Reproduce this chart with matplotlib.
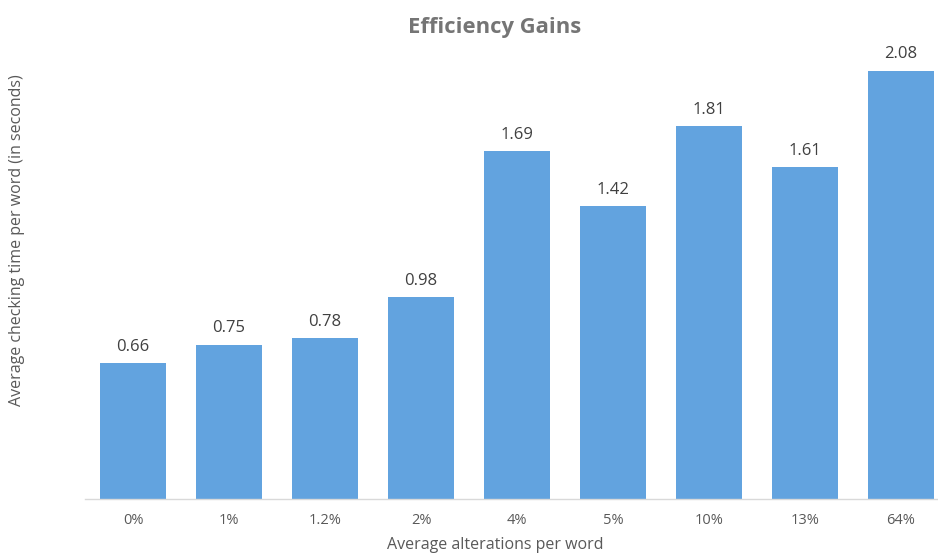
import numpy as np
import matplotlib.pyplot as plt

plt.rcParams['font.family'] = ['Open Sans', 'DejaVu Sans']

# Chart data
categories = ['0%', '1%', '1.2%', '2%', '4%', '5%', '10%', '13%', '64%']
check_time = [0.66, 0.75, 0.78, 0.98, 1.69, 1.42, 1.81, 1.61, 2.08]

fig = plt.figure(figsize=(9.38, 5.54), dpi=100)
ax = fig.add_axes([85 / 938, 55 / 554, 853 / 938, 439 / 554])

x = np.arange(len(categories))
ax.bar(x, check_time, width=0.68, color='#62A3DF', zorder=2)

for xi, v in zip(x, check_time):
    ax.text(xi, v + 0.04, f'{v:.2f}', ha='center', va='bottom',
            fontsize=12, color='#404040')

ax.set_xlim(-0.5, -0.5 + 853 / 96)
ax.set_ylim(0, 439 / 206)
ax.set_xticks(x)
ax.set_xticklabels(categories, fontsize=10.5, color='#595959')
ax.set_yticks([])
ax.tick_params(axis='x', length=0, pad=10)

for side in ['top', 'right', 'left']:
    ax.spines[side].set_visible(False)
ax.spines['bottom'].set_color('#D9D9D9')
ax.spines['bottom'].set_linewidth(1)

# axis titles placed in figure pixels to match the reference
fig.text(495 / 938, 1 - 545 / 554, 'Average alterations per word', ha='center', va='center',
         fontsize=11.5, color='#595959')
fig.text(17 / 938, 1 - 240 / 554, 'Average checking time per word (in seconds)', ha='center',
         va='center', rotation=90, fontsize=11.5, color='#595959')

fig.text(495 / 938, 1 - 28 / 554, 'Efficiency Gains', ha='center', va='center',
         fontsize=15.8, fontweight='bold', color='#757575')

fig.savefig('out.png', dpi=100)
